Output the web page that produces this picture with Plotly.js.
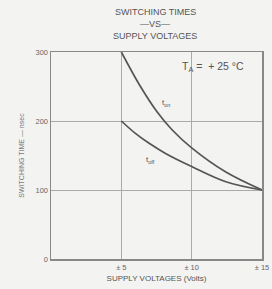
<!DOCTYPE html>
<html><head><meta charset="utf-8">
<script src="https://cdn.plot.ly/plotly-3.0.1.min.js"></script>
<style>html,body{margin:0;padding:0;background:#f3f3f1;}#c{width:272px;height:289px;}</style>
</head><body><div id="c"></div>
<script>
var voltageOn = [5, 6.36, 7.55, 8.62, 10, 12.43, 15];
var tOn = [300, 250, 213, 187, 161, 126, 100];
var voltageOff = [5, 6, 6.95, 8.14, 10, 12.43, 15];
var tOff = [200, 182, 168, 153, 134, 112, 100];
var xTickVals = [5, 10, 15];
var xTickText = ["± 5", "± 10", "± 15"];
var yTickVals = [0, 100, 200, 300];
var yTickText = ["0", "100", "200", "300"];
var titleLines = ["SWITCHING TIMES", "—VS—", "SUPPLY VOLTAGES"];

var FAM = "Liberation Sans, Arial, sans-serif";
var lineStyle = {color: "#555", width: 1.7, shape: "spline", smoothing: 1};
var traces = [
  {x: voltageOn, y: tOn, mode: "lines", line: lineStyle, hoverinfo: "skip"},
  {x: voltageOff, y: tOff, mode: "lines", line: lineStyle, hoverinfo: "skip"}
];
var fnt = {family: FAM, color: "#666", size: 7.5};
var ann = [
  {x: 11.5, y: 278, xref: "x", yref: "y", text: "T<sub>A</sub> =  + 25 °C", showarrow: false,
   font: {family: FAM, size: 10.5, color: "#555"}},
  {x: 8.2, y: 226, xref: "x", yref: "y", text: "t<sub>on</sub>", showarrow: false,
   font: {family: FAM, size: 8, color: "#555"}},
  {x: 7.1, y: 143, xref: "x", yref: "y", text: "t<sub>off</sub>", showarrow: false,
   font: {family: FAM, size: 8, color: "#555"}}
];
var titleY = [12, 24, 36];
titleLines.forEach(function (t, i) {
  ann.push({x: (155 - 51) / 211, y: (289 - titleY[i] - 30) / 207, xref: "paper", yref: "paper", text: t,
            showarrow: false, xanchor: "center", yanchor: "middle", font: {family: FAM, size: 9, color: "#555"}});
});
var layout = {
  width: 272, height: 289,
  paper_bgcolor: "#f3f3f1", plot_bgcolor: "#f3f3f1",
  showlegend: false,
  margin: {l: 51, r: 10, t: 52, b: 30},
  xaxis: {range: [0, 15], tickvals: xTickVals, ticktext: xTickText, showgrid: true, gridcolor: "#aaa", gridwidth: 1,
          zeroline: false, showline: true, linecolor: "#888", linewidth: 1.5, mirror: true, ticks: "",
          tickfont: fnt, fixedrange: true,
          title: {text: "SUPPLY VOLTAGES (Volts)", font: {family: FAM, size: 8, color: "#555"}, standoff: 5}},
  yaxis: {range: [0, 300], tickvals: yTickVals, ticktext: yTickText, showgrid: true, gridcolor: "#aaa", gridwidth: 1,
          zeroline: false, showline: true, linecolor: "#888", linewidth: 1.5, mirror: true, ticks: "",
          tickfont: fnt, fixedrange: true,
          title: {text: "SWITCHING TIME — nsec", font: {family: FAM, size: 7, color: "#777"}, standoff: 10}},
  annotations: ann
};
Plotly.newPlot("c", traces, layout, {displayModeBar: false, staticPlot: true});
</script></body></html>
